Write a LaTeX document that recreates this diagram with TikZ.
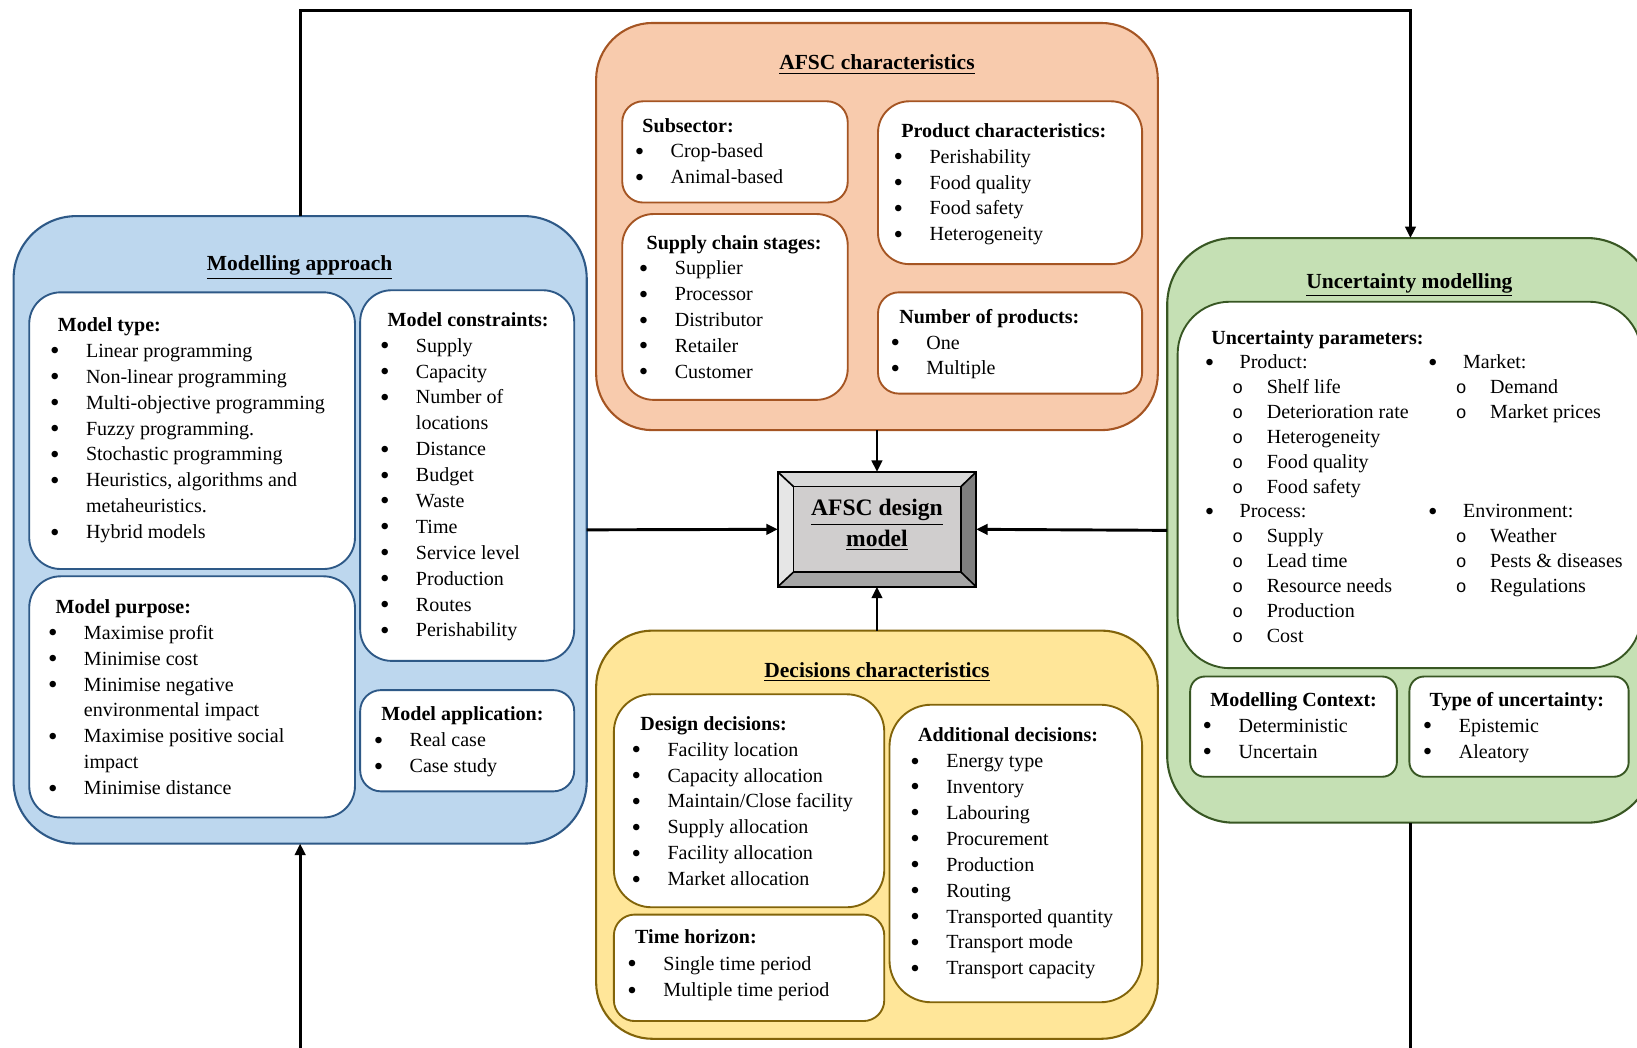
\documentclass[tikz,border=0pt]{standalone}
\usepackage{fontspec}
\usepackage{graphicx}
\setmainfont{Liberation Serif}
\newfontfamily\monof{Liberation Mono}
\usetikzlibrary{arrows.meta}
\definecolor{blueF}{RGB}{189,215,238}
\definecolor{blueD}{RGB}{46,89,135}
\definecolor{orF}{RGB}{248,203,173}
\definecolor{orD}{RGB}{165,85,35}
\definecolor{yeF}{RGB}{255,230,153}
\definecolor{yeD}{RGB}{130,100,10}
\definecolor{grF}{RGB}{197,224,180}
\definecolor{grD}{RGB}{56,87,35}
\definecolor{bvTop}{RGB}{216,216,216}
\definecolor{bvLeft}{RGB}{230,230,230}
\definecolor{bvRight}{RGB}{127,127,127}
\definecolor{bvBot}{RGB}{166,166,166}
\definecolor{bvFace}{RGB}{208,206,206}
\newcommand\bodyf{\fontsize{9.6}{12.4}\selectfont}
\newcommand\upf{\fontsize{9.6}{11.9}\selectfont}
\newcommand\titf{\fontsize{10.3}{12}\selectfont\bfseries}
\newcommand\bx[6]{\node[#2, minimum width={(#5-#3)*0.5pt}, minimum height={(#6-#4)*0.5pt}] (#1) at ({(#3+#5)/2},{(#4+#6)/2}) {};}
\newcommand\hd[1]{\multicolumn{2}{@{\hspace{1.5pt}}l@{}}{\textbf{#1}}\\}
\newcommand\hdo[2]{\multicolumn{2}{@{\hspace{#1}}l@{}}{\textbf{#2}}\\}
\newcommand\bul{\hspace*{-2.2pt}\raisebox{-0.12em}{\scalebox{1.35}{\textbullet}}}
\newcommand\bi[1]{\bul & #1\\}
\newcommand\ct[1]{ & #1\\}
\newcommand\oc{\hspace*{-3.5pt}{\monof\fontsize{8.6}{10}\selectfont o}}
\newenvironment{blist}{\begin{tabular}[t]{@{}p{15pt}@{}l@{}}}{\end{tabular}}
\begin{document}
\begin{tikzpicture}[x=0.5pt,y=-0.5pt,
  obox/.style={draw, line width=1pt, inner sep=0pt, outer sep=0pt},
  ibox/.style={draw, fill=white, line width=0.9pt, inner sep=0pt, outer sep=0pt},
  lst/.style={anchor=base west, inner sep=0pt, font=\bodyf},
  ttl/.style={anchor=base, inner sep=0pt, font=\titf},
  conn/.style={line width=1.4pt, -{Triangle[length=5.5pt,width=5pt]}},
  bevel/.style={draw=black, line width=0.8pt, line join=miter}]
\useasboundingbox (0,0) rectangle (1568,1003);
\clip (0,0) rectangle (1568,1003);

% outer boxes
\bx{mab}{obox,fill=blueF,draw=blueD,rounded corners=30pt}{13}{207}{562}{808}
\bx{afb}{obox,fill=orF,draw=orD,rounded corners=27pt}{571}{22}{1109}{412}
\bx{dcb}{obox,fill=yeF,draw=yeD,rounded corners=27pt}{571}{604}{1109}{995}
\bx{unc}{obox,fill=grF,draw=grD,rounded corners=32pt}{1118}{228}{1584}{788}

% inner boxes
\bx{mt}{ibox,draw=blueD,rounded corners=15pt}{28}{280}{340}{545}
\bx{mc}{ibox,draw=blueD,rounded corners=15pt}{345}{278}{550}{633}
\bx{mp}{ibox,draw=blueD,rounded corners=15pt}{28}{552}{340}{783}
\bx{ma}{ibox,draw=blueD,rounded corners=10pt}{345}{661}{550}{758}
\bx{ss}{ibox,draw=orD,rounded corners=10pt}{596}{97}{812}{194}
\bx{sc}{ibox,draw=orD,rounded corners=15pt}{596}{205}{812}{383}
\bx{pc}{ibox,draw=orD,rounded corners=15pt}{841}{97}{1094}{253}
\bx{np}{ibox,draw=orD,rounded corners=10pt}{841}{280}{1094}{377}
\bx{dd}{ibox,draw=yeD,rounded corners=18pt}{588}{665}{847}{869}
\bx{th}{ibox,draw=yeD,rounded corners=10pt}{588}{876}{847}{978}
\bx{ad}{ibox,draw=yeD,rounded corners=20pt}{852}{675}{1094}{960}
\bx{up}{ibox,draw=grD,rounded corners=25pt}{1128}{289}{1572}{640}
\bx{mcx}{ibox,draw=grD,rounded corners=7pt}{1140}{648}{1338}{744}
\bx{tu}{ibox,draw=grD,rounded corners=7pt}{1350}{648}{1560}{744}

% titles
\node[ttl] (mab-t) at (287,259) {\underline{Modelling\ approach}};
\node[ttl] (afb-t) at (840,67) {\underline{AFSC characteristics}};
\node[ttl] (dcb-t) at (840,649) {\underline{Decisions\ characteristics}};
\node[ttl] (unc-t) at (1350,276) {\underline{Uncertainty\ modelling}};

% lists
\node[lst] (mt-t) at (52,317.5) {\begin{blist}\hd{Model type:}\bi{Linear programming}\bi{Non-linear programming}\bi{Multi-objective programming}\bi{Fuzzy programming.}\bi{Stochastic programming}\bi{Heuristics, algorithms and}\ct{metaheuristics.}\bi{Hybrid models}\end{blist}};
\node[lst] (mc-t) at (368,312.5) {\begin{blist}\hd{Model constraints:}\bi{Supply}\bi{Capacity}\bi{Number of}\ct{locations}\bi{Distance}\bi{Budget}\bi{Waste}\bi{Time}\bi{Service level}\bi{Production}\bi{Routes}\bi{Perishability}\end{blist}};
\node[lst] (mp-t) at (50,587.5) {\begin{blist}\hd{Model purpose:}\bi{Maximise profit}\bi{Minimise cost}\bi{Minimise negative}\ct{environmental impact}\bi{Maximise positive social}\ct{impact}\bi{Minimise distance}\end{blist}};
\node[lst] (ma-t) at (362,690.5) {\begin{blist}\hd{Model application:}\bi{Real case}\bi{Case study}\end{blist}};
\node[lst] (ss-t) at (612,126.5) {\begin{blist}\hd{Subsector:}\bi{Crop-based}\bi{Animal-based}\end{blist}};
\node[lst] (sc-t) at (616,238.5) {\begin{blist}\hd{Supply chain stages:}\bi{Supplier}\bi{Processor}\bi{Distributor}\bi{Retailer}\bi{Customer}\end{blist}};
\node[lst] (pc-t) at (860,131.5) {\begin{blist}\hd{Product characteristics:}\bi{Perishability}\bi{Food quality}\bi{Food safety}\bi{Heterogeneity}\end{blist}};
\node[lst] (np-t) at (857,309.5) {\begin{blist}\hdo{2pt}{Number of products:}\bi{One}\bi{Multiple}\end{blist}};
\node[lst] (dd-t) at (609,699.5) {\begin{blist}\hdo{2pt}{Design decisions:}\bi{Facility location}\bi{Capacity allocation}\bi{Maintain/Close facility}\bi{Supply allocation}\bi{Facility allocation}\bi{Market allocation}\end{blist}};
\node[lst,font=\fontsize{9.6}{12.7}\selectfont] (th-t) at (605,904) {\begin{blist}\hd{Time horizon:}\bi{Single time period}\bi{Multiple time period}\end{blist}};
\node[lst] (ad-t) at (876,710.5) {\begin{blist}\hd{Additional decisions:}\bi{Energy type}\bi{Inventory}\bi{Labouring}\bi{Procurement}\bi{Production}\bi{Routing}\bi{Transported quantity}\bi{Transport mode}\bi{Transport capacity}\end{blist}};
\node[lst,font=\upf] (up-t) at (1158,329.5) {\begin{tabular}[t]{@{}p{14.5pt}@{}p{13pt}@{}p{79.5pt}@{}p{14.5pt}@{}p{13pt}@{}l@{}}
\multicolumn{6}{@{\hspace{1pt}}l@{}}{\textbf{Uncertainty parameters:}}\\
\bul & \multicolumn{2}{@{}l@{}}{Product:} & \bul & \multicolumn{2}{@{}l@{}}{Market:}\\
 & \oc & Shelf life & & \oc & Demand\\
 & \oc & Deterioration rate & & \oc & Market prices\\
 & \oc & Heterogeneity & & & \\
 & \oc & Food quality & & & \\
 & \oc & Food safety & & & \\
\bul & \multicolumn{2}{@{}l@{}}{Process:} & \bul & \multicolumn{2}{@{}l@{}}{Environment:}\\
 & \oc & Supply & & \oc & Weather\\
 & \oc & Lead time & & \oc & Pests \& diseases\\
 & \oc & Resource needs & & \oc & Regulations\\
 & \oc & Production & & & \\
 & \oc & Cost & & & \\
\end{tabular}};
\node[lst] (mcx-t) at (1156,676.5) {\begin{blist}\hd{Modelling Context:}\bi{Deterministic}\bi{Uncertain}\end{blist}};
\node[lst] (tu-t) at (1367,676.5) {\begin{blist}\hdo{1pt}{Type of uncertainty:}\bi{Epistemic}\bi{Aleatory}\end{blist}};

% central bevelled box
\bx{cb}{inner sep=0pt,outer sep=0pt,fill=bvFace}{745}{452}{935}{562}
\fill[bvTop] (745,452) -- (935,452) -- (920.5,466) -- (760,466) -- cycle;
\fill[bvLeft] (745,452) -- (760,466) -- (760,548) -- (745,562) -- cycle;
\fill[bvRight] (935,452) -- (935,562) -- (920.5,548) -- (920.5,466) -- cycle;
\fill[bvBot] (745,562) -- (935,562) -- (920.5,548) -- (760,548) -- cycle;
\draw[bevel] (745,452) rectangle (935,562);
\draw[bevel] (760,466) rectangle (920.5,548);
\draw[bevel] (745,452) -- (760,466) (935,452) -- (920.5,466) (745,562) -- (760,548) (935,562) -- (920.5,548);
\node[font=\fontsize{11.3}{14.5}\selectfont\bfseries, align=center, inner sep=0pt] (cbt) at (840,503) {\underline{AFSC design}\\\underline{model}};

% connectors
\draw[conn] (afb.south) -- (cb.north);
\draw[conn] (dcb.north) -- (cb.south);
\draw[conn] (mab.east) -- (cb.west);
\draw[conn] (unc.west) -- (cb.east);
\coordinate (loopT) at (840,10);
\coordinate (loopB) at (840,1040);
\draw[conn] (mab.north) |- (loopT) -| (unc.north);
\draw[conn] (unc.south) |- (loopB) -| (mab.south);
\end{tikzpicture}
\end{document}
